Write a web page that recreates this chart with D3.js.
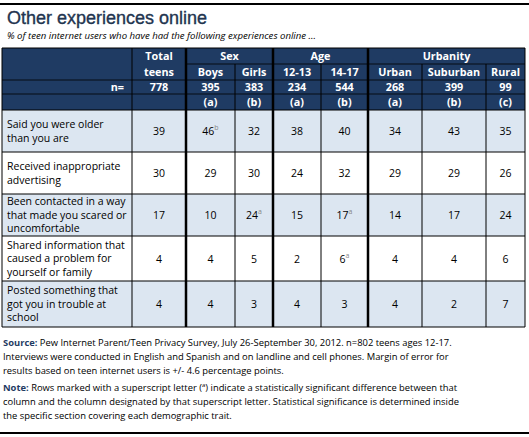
<!DOCTYPE html>
<html><head><meta charset="utf-8">
<script src="https://cdn.jsdelivr.net/npm/d3@7"></script>
<style>body{margin:0;background:#fff}</style></head>
<body><svg id="c" width="529" height="437"></svg>
<script>
const groups = [{name:"Sex",cols:[1,2]},{name:"Age",cols:[3,4]},{name:"Urbanity",cols:[5,6,7]}];
const columns = ["Boys","Girls","12-13","14-17","Urban","Suburban","Rural"];
const nValues = [778,395,383,234,544,268,399,99];
const letters = ["","(a)","(b)","(a)","(b)","(a)","(b)","(c)"];
const rowLabels = [
 ["Said you were older","than you are"],
 ["Received inappropriate","advertising"],
 ["Been contacted in a way","that made you scared or","uncomfortable"],
 ["Shared information that","caused a problem for","yourself or family"],
 ["Posted something that","got you in trouble at","school"]];
const values = [
 [39,46,32,38,40,34,43,35],
 [30,29,30,24,32,29,29,26],
 [17,10,24,15,17,14,17,24],
 [4,4,5,2,6,4,4,6],
 [4,4,3,4,3,4,2,7]];
const sups = [
 ["","b","","","","","",""],
 ["","","","","","","",""],
 ["","","a","","a","","",""],
 ["","","","","a","","",""],
 ["","","","","","","",""]];

const svg = d3.select("#c");
const F = "'Open Sans', 'Liberation Sans', sans-serif";
const navy = "#1f3b63";
const colEdges = [2,132,186,235,273,321,368,422,486,525];
const hdr = [48,64,80,94,110];
const rowEdges = [110,152,194,236,281,327];
const cx = i => (colEdges[i+1]+colEdges[i+2])/2;

svg.append("line").attr("x1",0).attr("x2",529).attr("y1",4).attr("y2",4).attr("stroke","#000").attr("stroke-width",2);
svg.append("line").attr("x1",0).attr("x2",529).attr("y1",433).attr("y2",433).attr("stroke","#000").attr("stroke-width",2);
svg.append("text").attr("x",7).attr("y",24).attr("font-family","'Liberation Sans',Arial,sans-serif").attr("font-size",18).attr("fill","#22344f").attr("stroke","#22344f").attr("stroke-width",0.35).text("Other experiences online");
svg.append("text").attr("x",7).attr("y",39).attr("font-family",F).attr("font-style","italic").attr("font-size",9.6).attr("fill","#000").text("% of teen internet users who have had the following experiences online ...");

svg.append("rect").attr("x",colEdges[0]).attr("y",hdr[0]).attr("width",colEdges[9]-colEdges[0]).attr("height",hdr[4]-hdr[0]).attr("fill",navy);
rowLabels.forEach((r,i)=>svg.append("rect").attr("x",colEdges[0]).attr("y",rowEdges[i]).attr("width",colEdges[9]-colEdges[0]).attr("height",rowEdges[i+1]-rowEdges[i]).attr("fill",i%2===0?"#dce6f1":"#fff"));

const ht = (x,y,t)=>svg.append("text").attr("x",x).attr("y",y).attr("text-anchor","middle").attr("font-family",F).attr("font-weight","bold").attr("font-size",10.8).attr("fill","#fff").text(t);
ht(cx(0),hdr[0]+12,"Total");
ht(cx(0),hdr[1]+12,"teens");
groups.forEach(g=>{const a=colEdges[g.cols[0]+1],b=colEdges[g.cols[g.cols.length-1]+2];ht((a+b)/2,hdr[0]+12,g.name);});
columns.forEach((c,i)=>ht(cx(i+1),hdr[1]+12,c));
svg.append("text").attr("x",colEdges[1]-8).attr("y",hdr[2]+11).attr("text-anchor","end").attr("font-family",F).attr("font-weight","bold").attr("font-size",10.8).attr("fill","#fff").text("n=");
nValues.forEach((n,i)=>ht(cx(i),hdr[2]+11,n));
letters.forEach((l,i)=>ht(cx(i),hdr[3]+12,l));

rowLabels.forEach((lines,r)=>{
  const y0=rowEdges[r],h=rowEdges[r+1]-y0, lh=13.5, top=y0+h/2-(lines.length*lh)/2+10.5;
  lines.forEach((t,k)=>svg.append("text").attr("x",7).attr("y",top+k*lh).attr("font-family",F).attr("font-size",10.5).attr("fill","#000").text(t));
  values[r].forEach((v,i)=>{
    const t=svg.append("text").attr("x",cx(i)).attr("y",y0+h/2+4).attr("text-anchor","middle").attr("font-family",F).attr("font-size",10.5).attr("fill","#000").text(v);
    if(sups[r][i]) t.append("tspan").attr("dy",-5).attr("font-size",7).attr("fill","#888").text(sups[r][i]);
  });
});

const g=svg.append("g").attr("stroke","#000");
[[hdr[1],2],[hdr[2],0],[hdr[3],0]].forEach(([y,a])=>g.append("line").attr("x1",colEdges[a]).attr("x2",colEdges[9]).attr("y1",y).attr("y2",y).attr("stroke-width",0.8));
rowEdges.forEach(y=>g.append("line").attr("x1",colEdges[0]).attr("x2",colEdges[9]).attr("y1",y).attr("y2",y).attr("stroke-width",1));
g.append("line").attr("x1",colEdges[0]).attr("x2",colEdges[9]).attr("y1",hdr[0]).attr("y2",hdr[0]);
colEdges.forEach((x,i)=>{
  const thick=[2,4,6].includes(i);
  const yStart = (i===3||i===5||i===7||i===8)?hdr[1]:hdr[0];
  g.append("line").attr("x1",x).attr("x2",x).attr("y1",yStart).attr("y2",rowEdges[5]).attr("stroke-width",thick?2.5:1);
});

const foot=[
 [["Source:",true],[" Pew Internet Parent/Teen Privacy Survey, July 26-September 30, 2012. n=802 teens ages 12-17.",false]],
 [["Interviews were conducted in English and Spanish and on landline and cell phones.  Margin of error for",false]],
 [["results based on teen internet users is +/- 4.6 percentage points.",false]],
 [["Note:",true],[" Rows marked with a superscript letter (",false],["a",false,true],[") indicate a statistically significant difference between that",false]],
 [["column and the column designated by that superscript letter. Statistical significance is determined inside",false]],
 [["the specific section covering each demographic trait.",false]]];
const fy=[346,360,374,391,405,419];
foot.forEach((parts,i)=>{
  const t=svg.append("text").attr("x",3).attr("y",fy[i]).attr("font-family",F).attr("font-size",9.4).attr("fill","#000");
  parts.forEach(([s,b,sup])=>{const sp=t.append("tspan").text(s);
    if(b) sp.attr("font-weight","bold").attr("fill","#1f3b63");
    if(sup) {sp.attr("font-size",6).attr("dy",-4); }
    else if(i===3 && s.startsWith(")")) sp.attr("dy",4);});
});
</script></body></html>
